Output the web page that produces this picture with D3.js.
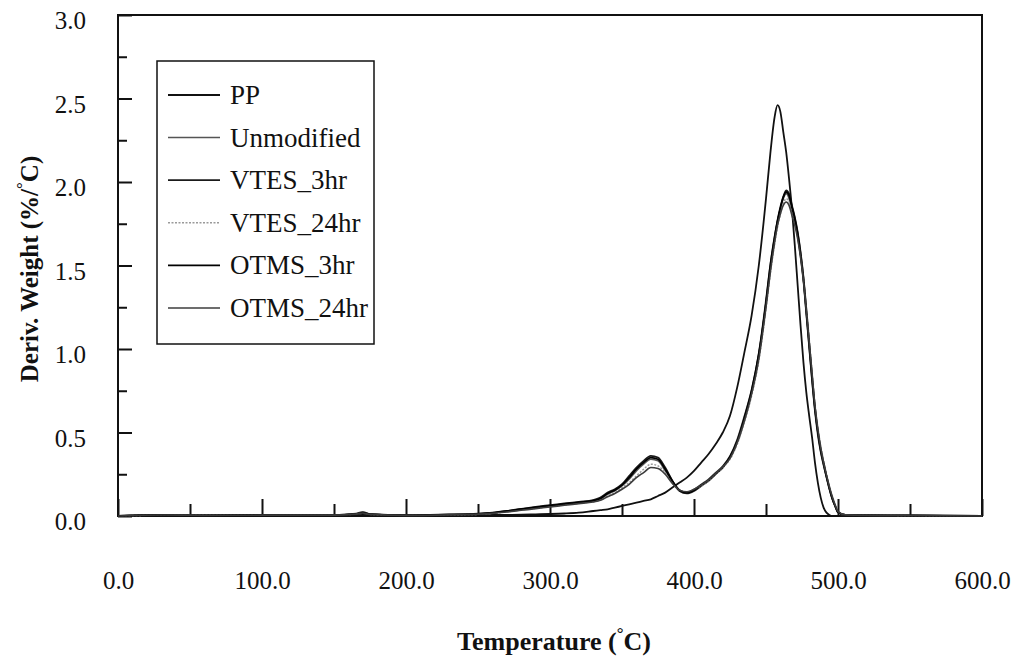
<!DOCTYPE html>
<html>
<head>
<meta charset="utf-8">
<script src="https://cdn.jsdelivr.net/npm/d3@7"></script>
<style>
  body { margin: 0; background: #fff; }
  svg text { font-family: "Liberation Serif", "Times New Roman", serif; fill: #111; }
</style>
</head>
<body>
<svg id="chart" width="1021" height="672"></svg>
<script>
// temperatures (°C) shared by every curve
const temps = [0, 30, 60, 100, 150, 165, 170, 175, 200, 230, 250, 260, 270, 280, 290, 300, 310, 320, 330, 335,
  340, 345, 350, 355, 360, 365, 370, 375, 380, 385, 390, 395, 400, 405, 410, 415, 420, 425, 430, 435,
  440, 445, 450, 453, 456, 458, 460, 462, 464, 466, 468, 470, 472, 474, 476, 478, 480, 482, 484, 486,
  488, 490, 492, 494, 496, 498, 500, 505, 550, 600];

const ppVals = [0, 0.005, 0.003, 0.005, 0.004, 0.005, 0.006, 0.005, 0.003, 0.004, 0.005, 0.006, 0.007, 0.008, 0.01, 0.012, 0.015, 0.02, 0.03, 0.035,
  0.04, 0.05, 0.06, 0.07, 0.08, 0.09, 0.1, 0.12, 0.14, 0.17, 0.2, 0.23, 0.27, 0.32, 0.37, 0.43, 0.5, 0.6, 0.77, 0.98,
  1.2, 1.5, 1.9, 2.17, 2.39, 2.46, 2.42, 2.3, 2.18, 2.02, 1.84, 1.62, 1.38, 1.14, 0.92, 0.74, 0.6, 0.47, 0.32, 0.2,
  0.11, 0.05, 0.02, 0.006, 0, 0, 0, 0, 0, 0];

const unmodVals = [0, 0.008, 0.004, 0.005, 0.006, 0.015, 0.025, 0.012, 0.005, 0.008, 0.012, 0.018, 0.028, 0.04, 0.05, 0.06, 0.07, 0.08, 0.09, 0.1,
  0.13, 0.15, 0.18, 0.22, 0.27, 0.31, 0.34, 0.33, 0.27, 0.2, 0.15, 0.14, 0.16, 0.19, 0.22, 0.26, 0.3, 0.36, 0.46, 0.6,
  0.76, 0.98, 1.3, 1.51, 1.68, 1.77, 1.84, 1.9, 1.93, 1.9, 1.82, 1.76, 1.67, 1.55, 1.4, 1.2, 1.0, 0.8, 0.62, 0.48,
  0.38, 0.3, 0.23, 0.16, 0.1, 0.06, 0.02, 0.005, 0.003, 0];

const vtes3Vals = [0, 0.006, 0.005, 0.006, 0.005, 0.01, 0.018, 0.01, 0.004, 0.008, 0.014, 0.02, 0.03, 0.042, 0.055, 0.065, 0.075, 0.085, 0.095, 0.11,
  0.14, 0.16, 0.19, 0.24, 0.29, 0.33, 0.36, 0.35, 0.29, 0.21, 0.15, 0.135, 0.15, 0.18, 0.21, 0.25, 0.29, 0.35, 0.44, 0.58,
  0.74, 0.96, 1.27, 1.48, 1.66, 1.76, 1.84, 1.91, 1.95, 1.93, 1.86, 1.79, 1.7, 1.58, 1.43, 1.24, 1.04, 0.84, 0.65, 0.51,
  0.4, 0.32, 0.24, 0.17, 0.11, 0.06, 0.025, 0.006, 0.003, 0];

const vtes24Vals = [0, 0.005, 0.004, 0.005, 0.005, 0.012, 0.02, 0.01, 0.004, 0.007, 0.01, 0.016, 0.025, 0.036, 0.046, 0.056, 0.066, 0.076, 0.086, 0.095,
  0.12, 0.14, 0.17, 0.2, 0.24, 0.28, 0.31, 0.3, 0.26, 0.2, 0.155, 0.145, 0.16, 0.18, 0.21, 0.25, 0.29, 0.34, 0.43, 0.56,
  0.72, 0.93, 1.24, 1.45, 1.63, 1.73, 1.81, 1.87, 1.9, 1.88, 1.82, 1.76, 1.68, 1.57, 1.43, 1.25, 1.06, 0.86, 0.67, 0.53,
  0.42, 0.33, 0.25, 0.18, 0.12, 0.07, 0.03, 0.008, 0.003, 0];

const otms3Vals = [0, 0.007, 0.004, 0.006, 0.005, 0.012, 0.02, 0.011, 0.005, 0.009, 0.013, 0.019, 0.029, 0.041, 0.052, 0.062, 0.072, 0.082, 0.092, 0.105,
  0.135, 0.155, 0.185, 0.23, 0.28, 0.32, 0.35, 0.34, 0.28, 0.21, 0.155, 0.14, 0.155, 0.185, 0.215, 0.255, 0.295, 0.355, 0.45, 0.59,
  0.75, 0.97, 1.28, 1.5, 1.67, 1.77, 1.85, 1.91, 1.94, 1.92, 1.85, 1.78, 1.69, 1.57, 1.42, 1.22, 1.02, 0.82, 0.64, 0.5,
  0.39, 0.31, 0.235, 0.165, 0.105, 0.06, 0.022, 0.006, 0.003, 0];

const otms24Vals = [0, 0.006, 0.004, 0.005, 0.005, 0.011, 0.018, 0.01, 0.004, 0.007, 0.011, 0.016, 0.024, 0.034, 0.044, 0.054, 0.064, 0.074, 0.084, 0.094,
  0.115, 0.135, 0.16, 0.19, 0.23, 0.26, 0.29, 0.285, 0.25, 0.195, 0.155, 0.145, 0.16, 0.185, 0.215, 0.255, 0.295, 0.345, 0.44, 0.57,
  0.73, 0.94, 1.25, 1.46, 1.64, 1.74, 1.81, 1.86, 1.88, 1.86, 1.8, 1.74, 1.66, 1.55, 1.41, 1.23, 1.04, 0.85, 0.66, 0.52,
  0.41, 0.32, 0.245, 0.175, 0.115, 0.065, 0.028, 0.007, 0.003, 0];

const seriesNames = ["PP", "Unmodified", "VTES_3hr", "VTES_24hr", "OTMS_3hr", "OTMS_24hr"];
const seriesVals = [ppVals, unmodVals, vtes3Vals, vtes24Vals, otms3Vals, otms24Vals];

const xMajor = [0, 100, 200, 300, 400, 500, 600];
const xMinor = [50, 150, 250, 350, 450, 550];
const yMajor = [0, 0.5, 1.0, 1.5, 2.0, 2.5, 3.0];
const yMinor = [0.25, 0.75, 1.25, 1.75, 2.25, 2.75];

// look of each curve
const colors = ["#111", "#555", "#1a1a1a", "#9a9a9a", "#000", "#3c3c3c"];
const dashes = [null, null, null, "2,1.5", null, null];
const widths = [1.8, 1.5, 1.8, 1.5, 1.8, 1.6];

const margin = { left: 118, top: 15, right: 1021 - 982, bottom: 672 - 516 };
const width = 1021 - margin.left - margin.right,
  height = 672 - margin.top - margin.bottom;

const svg = d3.select("#chart");
const g = svg.append("g").attr("transform", `translate(${margin.left},${margin.top})`);

const x = d3.scaleLinear().domain([0, 600]).range([0, width]);
const y = d3.scaleLinear().domain([0, 3]).range([height, 0]);

// frame
g.append("rect")
  .attr("width", width)
  .attr("height", height)
  .attr("fill", "none")
  .attr("stroke", "#111")
  .attr("stroke-width", 2);

// y axis: inner ticks, labels far out
const yAxisMinor = g.append("g").call(d3.axisLeft(y).tickValues(yMinor).tickSize(-9).tickFormat(""));
const yAxisMajor = g.append("g").call(
  d3.axisLeft(y).tickValues(yMajor).tickSize(-14).tickPadding(32).tickFormat(d3.format(".1f"))
);

// x axis
const xAxisMinor = g.append("g")
  .attr("transform", `translate(0,${height})`)
  .call(d3.axisBottom(x).tickValues(xMinor).tickSize(-12).tickFormat(""));
const xAxisMajor = g.append("g")
  .attr("transform", `translate(0,${height})`)
  .call(d3.axisBottom(x).tickValues(xMajor).tickSize(-17).tickPadding(55).tickFormat(d3.format(".1f")));

[yAxisMinor, yAxisMajor, xAxisMinor, xAxisMajor].forEach((a) => {
  a.select(".domain").remove();
  a.selectAll("line").attr("stroke", "#111").attr("stroke-width", 2);
  a.selectAll("text")
    .attr("font-family", "Liberation Serif, serif")
    .attr("font-size", 25)
    .attr("fill", "#111");
});
yAxisMajor.selectAll("text").attr("dy", "0.55em");

// curves
const line = d3.line()
  .x((d) => x(d[0]))
  .y((d) => y(d[1]))
  .curve(d3.curveMonotoneX);

const curves = seriesVals.map((vals) => temps.map((t, i) => [t, vals[i]]));

g.append("g")
  .selectAll("path")
  .data(curves)
  .join("path")
  .attr("d", line)
  .attr("fill", "none")
  .attr("stroke", (d, i) => colors[i])
  .attr("stroke-width", (d, i) => widths[i])
  .attr("stroke-dasharray", (d, i) => dashes[i])
  .attr("stroke-linejoin", "round");

// legend
const legend = svg.append("g").attr("transform", "translate(157,61)");
legend.append("rect")
  .attr("width", 217)
  .attr("height", 283)
  .attr("fill", "#fff")
  .attr("stroke", "#111")
  .attr("stroke-width", 1.5);

const rowY = d3.scalePoint().domain(seriesNames).range([34, 247]);

const items = legend.selectAll(".item")
  .data(seriesNames)
  .join("g")
  .attr("class", "item")
  .attr("transform", (d) => `translate(0,${rowY(d)})`);

items.append("line")
  .attr("x1", 11)
  .attr("x2", 63)
  .attr("stroke", (d, i) => colors[i])
  .attr("stroke-width", (d, i) => widths[i])
  .attr("stroke-dasharray", (d, i) => dashes[i]);

items.append("text")
  .attr("x", 73)
  .attr("dy", "0.33em")
  .attr("font-size", 27)
  .text((d) => d);

// axis titles
const xTitle = svg.append("text")
  .attr("x", 554)
  .attr("y", 650)
  .attr("text-anchor", "middle")
  .attr("font-size", 26)
  .attr("font-weight", "bold");
xTitle.append("tspan").text("Temperature (");
xTitle.append("tspan").attr("font-size", 17).attr("dy", -11).text("°");
xTitle.append("tspan").attr("dy", 11).text("C)");

const yTitle = svg.append("text")
  .attr("transform", "translate(38,269) rotate(-90)")
  .attr("text-anchor", "middle")
  .attr("font-size", 25)
  .attr("font-weight", "bold");
yTitle.append("tspan").text("Deriv. Weight (%/");
yTitle.append("tspan").attr("font-size", 17).attr("dy", -10).text("°");
yTitle.append("tspan").attr("dy", 10).text("C)");
</script>
</body>
</html>
